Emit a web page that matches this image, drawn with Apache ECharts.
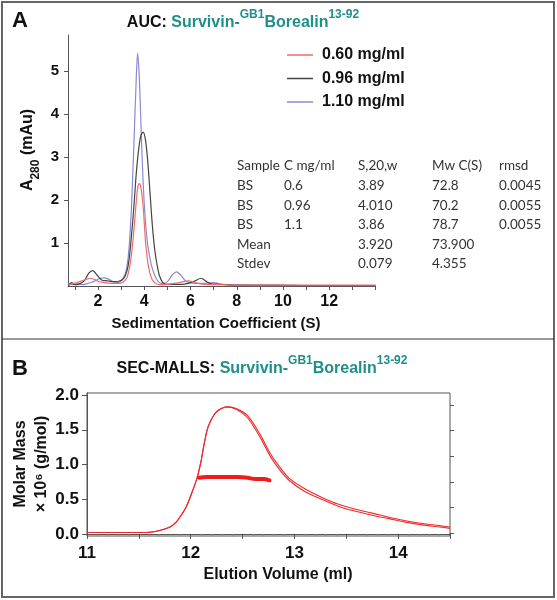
<!DOCTYPE html>
<html>
<head>
<meta charset="utf-8">
<script src="https://cdn.jsdelivr.net/npm/echarts@6/dist/echarts.min.js"></script>
<style>html,body{margin:0;padding:0;background:#fff}#c{width:557px;height:600px}</style>
</head>
<body>
<div id="c"></div>
<script>
// ---------- Panel A: AUC sedimentation coefficient distributions ----------
const aucNames = ['0.60 mg/ml', '0.96 mg/ml', '1.10 mg/ml'];
const aucRed = [[0.72,0.02],[0.9,0.06],[1.1,0.08],[1.3,0.12],[1.5,0.16],[1.67,0.18],[1.85,0.15],[2.05,0.1],[2.3,0.08],[2.6,0.06],[2.9,0.06],[3.1,0.1],[3.25,0.2],[3.35,0.4],[3.45,0.75],[3.55,1.3],[3.65,1.95],[3.72,2.3],[3.78,2.38],[3.85,2.3],[3.95,1.85],[4.05,1.05],[4.15,0.55],[4.25,0.28],[4.35,0.14],[4.5,0.06],[4.7,0.03],[5.0,0.04],[5.3,0.06],[5.6,0.09],[5.9,0.12],[6.2,0.08],[6.5,0.04],[6.8,0.03],[7.2,0.03],[8,0.02],[10,0.02],[12,0.02],[14,0.02]];
const aucBlack = [[0.72,0.0],[0.85,0.08],[1.0,0.03],[1.2,0.05],[1.4,0.12],[1.6,0.3],[1.77,0.36],[1.95,0.26],[2.15,0.14],[2.4,0.12],[2.65,0.1],[2.9,0.11],[3.1,0.17],[3.25,0.35],[3.35,0.65],[3.45,1.2],[3.55,1.85],[3.65,2.6],[3.75,3.15],[3.85,3.5],[3.95,3.58],[4.05,3.4],[4.15,2.9],[4.25,2.15],[4.35,1.4],[4.45,0.85],[4.55,0.5],[4.65,0.25],[4.8,0.08],[5.0,0.04],[5.3,0.04],[5.6,0.04],[5.9,0.06],[6.2,0.12],[6.45,0.18],[6.7,0.1],[6.9,0.05],[7.2,0.04],[7.6,0.03],[8,0.02],[9.8,0.02],[11,0.01],[14,0.01]];
const aucBlue = [[0.72,0.06],[0.9,0.03],[1.1,0.05],[1.3,0.03],[1.5,0.05],[1.7,0.08],[1.9,0.13],[2.1,0.18],[2.25,0.19],[2.45,0.16],[2.65,0.1],[2.85,0.08],[3.0,0.12],[3.15,0.25],[3.25,0.45],[3.35,0.95],[3.45,1.9],[3.55,3.3],[3.63,4.5],[3.71,5.42],[3.78,4.9],[3.86,3.7],[3.95,2.4],[4.05,1.5],[4.15,0.95],[4.3,0.5],[4.45,0.25],[4.6,0.1],[4.75,0.06],[4.9,0.07],[5.05,0.13],[5.2,0.25],[5.4,0.33],[5.6,0.24],[5.8,0.11],[6.0,0.07],[6.2,0.06],[6.5,0.06],[6.8,0.07],[7.0,0.08],[7.2,0.06],[7.5,0.03],[8,0.02],[9,0.01],[14,0.01]];
const aucXTicks = [1,2,3,4,5,6,7,8,9,10,11,12,13,14];
const aucXLabels = [2,4,6,8,10,12];
const aucYTicks = [1,2,3,4,5];
const tableHeader = ['Sample','C mg/ml','S,20,w','Mw C(S)','rmsd'];
const tableRows = [
  ['BS','0.6','3.89','72.8','0.0045'],
  ['BS','0.96','4.010','70.2','0.0055'],
  ['BS','1.1','3.86','78.7','0.0055'],
  ['Mean','','3.920','73.900',''],
  ['Stdev','','0.079','4.355','']
];

// ---------- Panel B: SEC-MALLS ----------
const secTraceA = [[11.0,0.02],[11.2,0.02],[11.4,0.02],[11.6,0.025],[11.7,0.05],[11.8,0.1],[11.86,0.17],[11.9,0.25],[11.96,0.4],[12.0,0.55],[12.06,0.8],[12.1,1.05],[12.13,1.3],[12.17,1.55],[12.25,1.76],[12.35,1.83],[12.45,1.8],[12.55,1.7],[12.67,1.43],[12.77,1.15],[12.87,0.94],[12.95,0.8],[13.1,0.65],[13.26,0.53],[13.42,0.43],[13.58,0.36],[13.75,0.3],[13.91,0.24],[14.07,0.19],[14.23,0.15],[14.4,0.12],[14.5,0.1]];
const secTraceB = [[11.0,0.02],[11.2,0.02],[11.4,0.02],[11.6,0.025],[11.7,0.05],[11.8,0.1],[11.86,0.17],[11.9,0.25],[11.96,0.4],[12.0,0.55],[12.06,0.8],[12.1,1.05],[12.13,1.3],[12.17,1.55],[12.25,1.76],[12.35,1.83],[12.45,1.79],[12.55,1.67],[12.67,1.39],[12.77,1.11],[12.87,0.9],[12.95,0.77],[13.1,0.61],[13.26,0.5],[13.42,0.4],[13.58,0.33],[13.75,0.27],[13.91,0.22],[14.07,0.17],[14.23,0.13],[14.4,0.1],[14.5,0.08]];
const molarMass = [[12.08,0.81],[12.15,0.82],[12.3,0.82],[12.45,0.82],[12.55,0.81],[12.62,0.79],[12.7,0.79],[12.76,0.77]];
const secYLabels = [0,0.5,1,1.5,2];
const secXLabels = [11,12,13,14];
const secRightTicks = [0,1,2,3,4,5];

const AR = 'Liberation Sans, Arial, sans-serif';
const teal = '#1f8f8a';

function titleText(x, y, lead) {
  return {
    type: 'text', x: x, y: y, z: 10,
    style: {
      text: '{b|' + lead + '}{t|Survivin-}{s|GB1}{t|Borealin}{s|13-92}',
      textAlign: 'center', textVerticalAlign: 'middle', align: 'center', verticalAlign: 'middle',
      fontFamily: AR, fontSize: 16, fontWeight: 'bold',
      rich: {
        b: {align: 'left', fontFamily: AR, fontSize: 16, fontWeight: 'bold', fill: '#111', lineHeight: 22, verticalAlign: 'bottom'},
        t: {align: 'left', fontFamily: AR, fontSize: 16, fontWeight: 'bold', fill: teal, lineHeight: 22, verticalAlign: 'bottom'},
        s: {align: 'left', fontFamily: AR, fontSize: 12, fontWeight: 'bold', fill: teal, lineHeight: 13, verticalAlign: 'top'}
      }
    }
  };
}

const graphics = [
  {type: 'rect', shape: {x: 2, y: 2, width: 552, height: 595}, style: {fill: 'none', stroke: '#666', lineWidth: 2}},
  {type: 'line', shape: {x1: 2, y1: 339, x2: 554, y2: 339}, style: {stroke: '#333', lineWidth: 1}},
  {type: 'text', x: 12, y: 10, style: {text: 'A', fontFamily: AR, fontSize: 22, fontWeight: 'bold', fill: '#111'}},
  {type: 'text', x: 12, y: 358, style: {text: 'B', fontFamily: AR, fontSize: 22, fontWeight: 'bold', fill: '#111'}},
  titleText(243, 20, 'AUC: '),
  titleText(262, 366, 'SEC-MALLS: '),
  {type: 'text', x: 216, y: 324, style: {text: 'Sedimentation Coefficient (S)', fontFamily: AR, fontSize: 15, fontWeight: 'bold', fill: '#111', textAlign: 'center', textVerticalAlign: 'middle', align: 'center', verticalAlign: 'middle'}},
  {type: 'text', x: 31, y: 150, rotation: Math.PI / 2, style: {
    text: '{a|A}{s|280}{a| (mAu)}', textAlign: 'center', textVerticalAlign: 'middle', align: 'center', verticalAlign: 'middle',
    fontFamily: AR, fontSize: 16, fontWeight: 'bold',
    rich: {
      a: {align: 'left', fontFamily: AR, fontSize: 16, fontWeight: 'bold', fill: '#111', lineHeight: 22, verticalAlign: 'top'},
      s: {align: 'left', fontFamily: AR, fontSize: 12, fontWeight: 'bold', fill: '#111', lineHeight: 13, verticalAlign: 'bottom'}
    }}},
  {type: 'text', x: 278, y: 575, style: {text: 'Elution Volume (ml)', fontFamily: AR, fontSize: 16, fontWeight: 'bold', fill: '#111', textAlign: 'center', textVerticalAlign: 'middle', align: 'center', verticalAlign: 'middle'}},
  {type: 'text', x: 31, y: 464, rotation: Math.PI / 2, style: {text: 'Molar Mass\n\u00d7 10\u2076 (g/mol)', fontFamily: AR, fontSize: 16, fontWeight: 'bold', lineHeight: 21, fill: '#111', textAlign: 'center', textVerticalAlign: 'middle', align: 'center', verticalAlign: 'middle'}}
];

const colX = [237, 284, 358, 432, 499];
const rowY0 = 166, rowStep = 19.6;
[tableHeader].concat(tableRows).forEach(function (row, r) {
  row.forEach(function (cell, c) {
    if (!cell) return;
    graphics.push({type: 'text', x: colX[c], y: rowY0 + r * rowStep, style: {text: cell, fontFamily: 'Lato, sans-serif', fontSize: 13.5, fill: '#333', textAlign: 'left', textVerticalAlign: 'middle', align: 'left', verticalAlign: 'middle'}});
  });
});

const chart = echarts.init(document.getElementById('c'), null, {renderer: 'canvas'});
chart.setOption({
  animation: false,
  backgroundColor: '#fff',
  graphic: graphics,
  legend: {
    data: aucNames, orient: 'vertical', left: 282, top: 42, itemGap: 7.5,
    icon: 'rect', itemWidth: 26, itemHeight: 1.5,
    textStyle: {fontFamily: AR, fontSize: 16, fontWeight: 'bold', color: '#111', padding: [0, 0, 0, 4]}
  },
  grid: [
    {left: 68, top: 35, width: 307.5, height: 251},
    {left: 87, top: 393, width: 363, height: 143, show: true, borderColor: '#555', borderWidth: 1, backgroundColor: 'transparent'}
  ],
  xAxis: [
    {type: 'value', gridIndex: 0, min: 0.7, max: 14,
     axisLine: {show: true, lineStyle: {color: '#555'}},
     axisTick: {show: true, customValues: aucXTicks, length: 4, lineStyle: {color: '#555'}},
     axisLabel: {customValues: aucXLabels, fontFamily: AR, fontSize: 16, fontWeight: 'bold', color: '#111', margin: 8},
     splitLine: {show: false}},
    {type: 'value', gridIndex: 1, min: 11, max: 14.5, interval: 0.5,
     axisLine: {show: true, lineStyle: {color: '#555'}},
     axisTick: {show: true, length: 5, lineStyle: {color: '#555'}},
     minorTick: {show: true, splitNumber: 5, length: 2.5, lineStyle: {color: '#888'}},
     axisLabel: {customValues: secXLabels, fontFamily: AR, fontSize: 17, fontWeight: 'bold', color: '#111', margin: 9},
     splitLine: {show: false}, minorSplitLine: {show: false}}
  ],
  yAxis: [
    {type: 'value', gridIndex: 0, min: 0, max: 5.84,
     axisLine: {show: true, lineStyle: {color: '#555'}},
     axisTick: {show: true, customValues: aucYTicks, length: 4, lineStyle: {color: '#555'}},
     axisLabel: {customValues: aucYTicks, fontFamily: AR, fontSize: 15, fontWeight: 'bold', color: '#111', margin: 9},
     splitLine: {show: false}},
    {type: 'value', gridIndex: 1, min: -0.03, max: 2.03,
     axisLine: {show: true, lineStyle: {color: '#555'}},
     axisTick: {show: true, customValues: secYLabels, length: 5, lineStyle: {color: '#555'}},
     axisLabel: {customValues: secYLabels, formatter: function (v) { return v.toFixed(1); }, fontFamily: AR, fontSize: 17, fontWeight: 'bold', color: '#111', margin: 8},
     splitLine: {show: false}},
    {type: 'value', gridIndex: 1, position: 'right', min: -0.116, max: 5.47,
     axisLine: {show: false},
     axisTick: {show: true, customValues: secRightTicks, length: 4, lineStyle: {color: '#555'}},
     axisLabel: {show: false}, splitLine: {show: false}}
  ],
  series: [
    {name: aucNames[2], type: 'line', xAxisIndex: 0, yAxisIndex: 0, data: aucBlue, showSymbol: false, smooth: 0.3, color: '#8a8ad2', lineStyle: {width: 1.2, color: '#8a8ad2'}},
    {name: aucNames[1], type: 'line', xAxisIndex: 0, yAxisIndex: 0, data: aucBlack, showSymbol: false, smooth: 0.3, color: '#444', lineStyle: {width: 1.2, color: '#444'}},
    {name: aucNames[0], type: 'line', xAxisIndex: 0, yAxisIndex: 0, data: aucRed, showSymbol: false, smooth: 0.3, color: '#f26b6b', lineStyle: {width: 1.2, color: '#f26b6b'}},
    {name: 'trace1', type: 'line', xAxisIndex: 1, yAxisIndex: 1, data: secTraceA, showSymbol: false, smooth: 0.3, lineStyle: {width: 1.1, color: '#ee2a2a'}},
    {name: 'trace2', type: 'line', xAxisIndex: 1, yAxisIndex: 1, data: secTraceB, showSymbol: false, smooth: 0.3, lineStyle: {width: 1.1, color: '#ee2a2a'}},
    {name: 'mass', type: 'line', xAxisIndex: 1, yAxisIndex: 1, data: molarMass, showSymbol: false, smooth: 0.3, lineStyle: {width: 4, color: '#ee1c1c', cap: 'round'}}
  ]
});
</script>
</body>
</html>
